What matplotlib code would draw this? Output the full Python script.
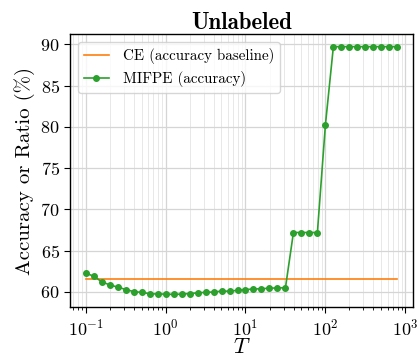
import numpy as np
import matplotlib
matplotlib.use("Agg")
import matplotlib.pyplot as plt
from matplotlib.ticker import LogLocator, NullFormatter

plt.rcParams['font.family'] = 'serif'
plt.rcParams['font.serif'] = ['cmr10']
plt.rcParams['mathtext.fontset'] = 'cm'
plt.rcParams['axes.formatter.use_mathtext'] = True

# Data
T_exponents = [-1.0, -0.9, -0.8, -0.7, -0.6, -0.5, -0.4, -0.3, -0.2, -0.1,
               0.0, 0.1, 0.2, 0.3, 0.4, 0.5, 0.6, 0.7, 0.8, 0.9,
               1.0, 1.1, 1.2, 1.3, 1.4, 1.5, 1.6, 1.7, 1.8, 1.9,
               2.0, 2.1, 2.2, 2.3, 2.4, 2.5, 2.6, 2.7, 2.8, 2.9]
mifpe_acc = [62.3, 61.9, 61.25, 60.85, 60.6, 60.3, 60.05, 59.95, 59.8, 59.75,
             59.75, 59.7, 59.75, 59.8, 59.9, 59.95, 60.0, 60.1, 60.1, 60.2,
             60.3, 60.35, 60.4, 60.45, 60.5, 60.5, 67.2, 67.2, 67.2, 67.2,
             80.2, 89.7, 89.7, 89.7, 89.7, 89.7, 89.7, 89.7, 89.7, 89.7]
ce_baseline = 61.6

T = [10 ** e for e in T_exponents]

fig = plt.figure(figsize=(4.2, 3.61), dpi=100)
ax = fig.add_axes([0.167, 0.150, 0.816, 0.755])

ax.plot(T, [ce_baseline] * len(T), color='#ff7f0e', lw=1.2, label='CE (accuracy baseline)')
ax.plot(T, mifpe_acc, color='#2ca02c', lw=1.2, marker='o', markersize=4,
        label='MIFPE (accuracy)')

ax.set_xscale('log')
ax.xaxis.set_major_locator(LogLocator(base=10, numticks=10))
ax.xaxis.set_minor_locator(LogLocator(base=10, subs=np.arange(2, 10), numticks=20))
ax.xaxis.set_minor_formatter(NullFormatter())
ax.set_yticks([60, 65, 70, 75, 80, 85, 90])

ax.grid(True, which='major', color='#d5d5d5', lw=0.9)
ax.grid(True, which='minor', axis='x', color='#e8e8e8', lw=0.7)
ax.set_axisbelow(True)

ax.tick_params(axis='both', which='major', labelsize=13, direction='out', length=4, width=0.8)
ax.tick_params(axis='x', which='minor', direction='out', length=2.5, width=0.6)
for s in ax.spines.values():
    s.set_linewidth(1.0)

ax.set_xlabel('$T$', fontsize=16, labelpad=0)
ax.set_ylabel('Accuracy or Ratio (%)', fontsize=15, labelpad=4)
ax.set_title('Unlabeled', fontsize=16.5, family='cmb10', pad=4)

leg = ax.legend(loc='upper left', fontsize=10.8, frameon=True, fancybox=True,
                edgecolor='#cccccc', framealpha=0.8, handlelength=1.7,
                handletextpad=0.9)

fig.savefig('out.png', dpi=100)
